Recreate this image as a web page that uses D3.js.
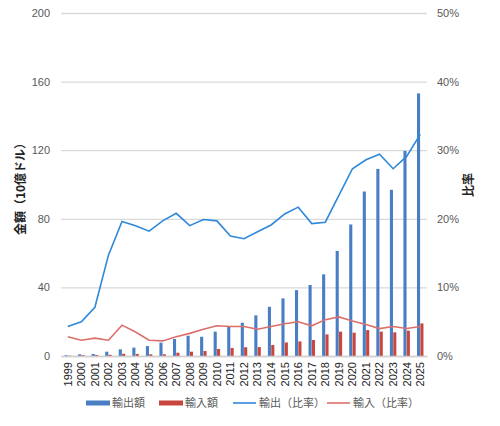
<!DOCTYPE html>
<html>
<head>
<meta charset="utf-8">
<script src="https://cdn.jsdelivr.net/npm/d3@7"></script>
<style>
  body { margin: 0; background: #fff; }
  text { font-family: "Liberation Sans", "Noto Sans CJK JP", sans-serif; }
  .jp { font-family: "Noto Sans CJK JP", sans-serif; }
</style>
</head>
<body>
<div id="chart"></div>
<script>
const years = d3.range(1999, 2026).map(String);
// 金額（10億ドル）
const exportAmount = [0.5, 1.0, 1.2, 2.5, 3.9, 4.9, 5.8, 7.8, 9.9, 11.8, 11.2, 14.2, 16.9, 19.4,
  23.7, 28.7, 33.6, 38.4, 41.4, 47.6, 61.3, 76.7, 95.9, 109.1, 96.9, 119.6, 153.1];
const importAmount = [0.2, 0.5, 0.6, 0.7, 1.3, 1.2, 1.0, 1.0, 1.9, 2.5, 2.9, 4.1, 4.7, 5.1,
  5.2, 6.4, 7.9, 8.5, 9.3, 12.6, 14.2, 13.6, 15.1, 14.2, 13.8, 14.8, 19.0];
// 比率 (%)
const exportRatio = [4.3, 5.0, 7.1, 14.7, 19.6, 19.0, 18.2, 19.7, 20.8, 19.0, 19.9, 19.7, 17.5, 17.1,
  18.1, 19.1, 20.7, 21.7, 19.3, 19.5, 23.4, 27.3, 28.6, 29.4, 27.3, 29.1, 32.3];
const importRatio = [2.8, 2.3, 2.6, 2.3, 4.5, 3.5, 2.3, 2.2, 2.8, 3.3, 3.9, 4.4, 4.3, 4.3,
  3.9, 4.3, 4.7, 5.0, 4.4, 5.3, 5.7, 5.1, 4.6, 4.0, 4.3, 4.0, 4.3];
const leftTicks = [0, 40, 80, 120, 160, 200];
const rightTicks = [0, 10, 20, 30, 40, 50];

const width = 500, height = 426;
const plot = { left: 61, right: 427, top: 13, bottom: 356 };
const colors = { exp: "#4a7ec4", imp: "#c9463f", expLine: "#2f88d8", impLine: "#dc6f6a" };

const svg = d3.select("#chart").append("svg")
  .attr("width", width).attr("height", height);

const x = d3.scaleBand().domain(years).range([plot.left, plot.right]).padding(0);
const xSub = d3.scaleBand().domain(["exp", "imp"]).range([0, x.bandwidth()])
  .paddingInner(0.08).paddingOuter(1.05);
const yL = d3.scaleLinear().domain([0, 200]).range([plot.bottom, plot.top]);
const yR = d3.scaleLinear().domain([0, 50]).range([plot.bottom, plot.top]);

//gridlines
svg.append("g")
  .attr("transform", `translate(${plot.left},0)`)
  .call(d3.axisLeft(yL).tickValues(leftTicks).tickSize(-(plot.right - plot.left)).tickFormat(""))
  .call(g => g.select(".domain").remove())
  .call(g => g.selectAll("line").attr("stroke", "#d9d9d9").attr("stroke-width", 1.3));

//left axis labels
svg.append("g")
  .attr("transform", `translate(${plot.left},0)`)
  .call(d3.axisLeft(yL).tickValues(leftTicks).tickSize(0).tickPadding(11))
  .call(g => g.select(".domain").remove())
  .call(g => g.selectAll("text").attr("fill", "#595959").style("font-size", "11px"));

//right axis labels
svg.append("g")
  .attr("transform", `translate(${plot.right},0)`)
  .call(d3.axisRight(yR).tickValues(rightTicks).tickSize(0).tickPadding(10).tickFormat(d => d + "%"))
  .call(g => g.select(".domain").remove())
  .call(g => g.selectAll("text").attr("fill", "#595959").style("font-size", "11px"));

//bars
const barData = years.map((yr, i) => ({ yr, exp: exportAmount[i], imp: importAmount[i] }));
const groups = svg.append("g").selectAll("g").data(barData).enter()
  .append("g").attr("transform", d => `translate(${x(d.yr)},0)`);
["exp", "imp"].forEach(key => {
  groups.append("rect")
    .attr("x", xSub(key))
    .attr("width", xSub.bandwidth())
    .attr("y", d => yL(d[key]))
    .attr("height", d => plot.bottom - yL(d[key]))
    .attr("fill", colors[key]);
});

//x axis
svg.append("g")
  .attr("transform", `translate(0,${plot.bottom})`)
  .call(d3.axisBottom(x).tickSize(0).tickPadding(0))
  .call(g => g.select(".domain").attr("stroke", "#d0d0d0").attr("stroke-width", 1.3))
  .selectAll("text")
  .attr("fill", "#222")
  .style("font-size", "11px")
  .attr("text-anchor", "end")
  .attr("transform", "rotate(-90)")
  .attr("x", -6)
  .attr("y", 0)
  .attr("dy", "0.35em");

//ratio lines
const lineFor = vals => d3.line()
  .x((d, i) => x(years[i]) + x.bandwidth() / 2)
  .y(d => yR(d))(vals);
svg.append("path").attr("d", lineFor(importRatio))
  .attr("fill", "none").attr("stroke", colors.impLine).attr("stroke-width", 1.6);
svg.append("path").attr("d", lineFor(exportRatio))
  .attr("fill", "none").attr("stroke", colors.expLine).attr("stroke-width", 1.6);

//axis titles
svg.append("text").attr("class", "jp")
  .attr("transform", "translate(25,186) rotate(-90)")
  .attr("text-anchor", "middle")
  .style("font-size", "12px").style("font-weight", 700).attr("fill", "#222")
  .text("金額（10億ドル）");
svg.append("text").attr("class", "jp")
  .attr("transform", "translate(473,185) rotate(-90)")
  .attr("text-anchor", "middle")
  .style("font-size", "12px").style("font-weight", 700).attr("fill", "#222")
  .text("比率");

//legend
const legendItems = [
  { label: "輸出額", color: colors.exp, type: "rect", x: 86 },
  { label: "輸入額", color: colors.imp, type: "rect", x: 159 },
  { label: "輸出（比率）", color: colors.expLine, type: "line", x: 233 },
  { label: "輸入（比率）", color: colors.impLine, type: "line", x: 327 }
];
const legend = svg.append("g").attr("transform", "translate(0,403)");
legendItems.forEach(item => {
  if (item.type === "rect") {
    legend.append("rect").attr("x", item.x).attr("y", -2.5).attr("width", 24).attr("height", 5)
      .attr("fill", item.color);
  } else {
    legend.append("line").attr("x1", item.x).attr("x2", item.x + 23).attr("y1", 0).attr("y2", 0)
      .attr("stroke", item.color).attr("stroke-width", 1.6);
  }
  legend.append("text").attr("class", "jp")
    .attr("x", item.x + 26).attr("y", 0).attr("dy", "0.36em")
    .style("font-size", "11px").attr("fill", "#595959")
    .text(item.label);
});
</script>
</body>
</html>
